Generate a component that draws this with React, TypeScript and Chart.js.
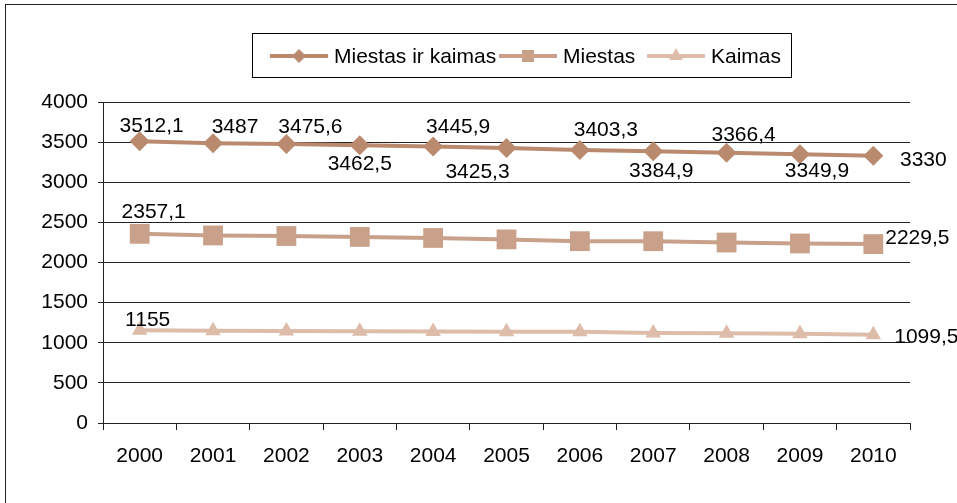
import React, { useEffect, useRef } from "react";
import { Chart, registerables } from "chart.js";

Chart.register(...registerables);

const years = ["2000", "2001", "2002", "2003", "2004", "2005", "2006", "2007", "2008", "2009", "2010"];
const total = [3512.1, 3487, 3475.6, 3462.5, 3445.9, 3425.3, 3403.3, 3384.9, 3366.4, 3349.9, 3330];
const city = [2357.1, 2337, 2330, 2319, 2306, 2288, 2266, 2265, 2249, 2237, 2229.5];
const rural = [1155, 1150, 1146, 1143, 1140, 1137, 1137, 1120, 1117, 1113, 1099.5];
const seriesNames = ["Miestas ir kaimas", "Miestas", "Kaimas"];
const yTickMin = 0;
const yTickMax = 4000;
const yTickStep = 500;

// label placement: [pointIndex, dx, dy] relative to the point (style only)
const totalLabelPos = [
  [0, 12, -15], [1, 22, -16], [2, 24, -17], [3, 0, 19], [4, 25, -19], [5, -29, 24],
  [6, 26, -20], [7, 8, 20], [8, 17, -18], [9, 17, 17], [10, 50, 4],
];
const cityLabelPos = [[0, 14, -22], [10, 44, -6]];
const ruralLabelPos = [[0, 8, -10], [10, 53, 2]];

const COLORS = ["#B98A6E", "#C9A18B", "#DDBCA9"];
const FONT = "Liberation Sans, Arial, sans-serif";
const FS = 21;

const fmt = (v: number) => String(v).replace(".", ",");

function drawMarker(ctx: CanvasRenderingContext2D, style: string, x: number, y: number, r: number) {
  ctx.beginPath();
  if (style === "rectRot") {
    ctx.moveTo(x, y - r);
    ctx.lineTo(x + r, y);
    ctx.lineTo(x, y + r);
    ctx.lineTo(x - r, y);
  } else if (style === "rect") {
    ctx.rect(x - r, y - r, 2 * r, 2 * r);
  } else {
    ctx.moveTo(x, y - r);
    ctx.lineTo(x + r * 0.866, y + r * 0.5);
    ctx.lineTo(x - r * 0.866, y + r * 0.5);
  }
  ctx.closePath();
  ctx.fill();
}

const extrasPlugin = {
  id: "extras",
  afterDatasetsDraw(chart: any) {
    const ctx = chart.ctx as CanvasRenderingContext2D;
    ctx.save();
    // data labels
    ctx.font = `${FS}px ${FONT}`;
    ctx.fillStyle = "#000";
    ctx.textAlign = "center";
    ctx.textBaseline = "middle";
    const posSets = [totalLabelPos, cityLabelPos, ruralLabelPos];
    posSets.forEach((set, di) => {
      const meta = chart.getDatasetMeta(di);
      const data = chart.data.datasets[di].data as number[];
      set.forEach(([i, dx, dy]) => {
        const el = meta.data[i];
        ctx.fillText(fmt(data[i]), el.x + dx, el.y + dy);
      });
    });

    // legend
    const box = { l: 252.5, t: 33.5, r: 791.5, b: 77.5 };
    ctx.strokeStyle = "#000";
    ctx.lineWidth = 1;
    ctx.strokeRect(box.l, box.t, box.r - box.l, box.b - box.t);
    const cy = 56;
    const starts = [270, 499, 647];
    const styles = ["rectRot", "rect", "triangle"];
    const mr = [7, 6, 8];
    ctx.textAlign = "left";
    starts.forEach((sx, i) => {
      ctx.strokeStyle = COLORS[i];
      ctx.lineWidth = 4;
      ctx.beginPath();
      ctx.moveTo(sx, cy);
      ctx.lineTo(sx + 58, cy);
      ctx.stroke();
      ctx.fillStyle = COLORS[i];
      drawMarker(ctx, styles[i], sx + 29, cy, mr[i]);
      ctx.fillStyle = "#000";
      ctx.fillText(seriesNames[i], sx + 64, cy + 1);
    });

    // outer frame
    ctx.strokeStyle = "#222";
    ctx.lineWidth = 1;
    ctx.strokeRect(5.5, 4.5, 2000, 2000);
    ctx.restore();
  },
};

export default function App() {
  const ref = useRef<HTMLCanvasElement | null>(null);
  useEffect(() => {
    document.body.style.margin = "0";
    const canvas = ref.current!;
    const mk = (i: number, data: number[], style: string, r: number) => ({
      label: seriesNames[i],
      data,
      borderColor: COLORS[i],
      backgroundColor: COLORS[i],
      borderWidth: 4,
      pointStyle: style,
      pointRadius: r,
      pointBorderWidth: 0,
      pointBackgroundColor: COLORS[i],
      tension: 0,
    });
    const chart = new Chart(canvas, {
      type: "line",
      data: {
        labels: years,
        datasets: [
          mk(0, total, "rectRot", 10),
          mk(1, city, "rect", 14),
          mk(2, rural, "triangle", 9),
        ],
      },
      options: {
        responsive: false,
        animation: false,
        devicePixelRatio: 1,
        layout: { padding: { left: 0, top: 102, right: 47, bottom: 0 } },
        plugins: { legend: { display: false }, tooltip: { enabled: false } },
        scales: {
          x: {
            offset: true,
            grid: { offset: true, drawOnChartArea: false, drawTicks: true, tickLength: 7, color: "#222", lineWidth: 1 },
            border: { display: true, color: "#222", width: 1 },
            ticks: { color: "#000", font: { family: FONT, size: FS }, padding: 14, maxRotation: 0, autoSkip: false },
            afterFit: (s: any) => { s.height = 80; },
          },
          y: {
            min: yTickMin,
            max: yTickMax,
            ticks: {
              stepSize: yTickStep,
              color: "#000",
              font: { family: FONT, size: FS },
              padding: 10,
              callback: (v: any) => String(v),
            },
            grid: { color: "#222", lineWidth: 1, tickLength: 5, drawTicks: true },
            border: { display: true, color: "#222", width: 1 },
            afterFit: (s: any) => { s.width = 103; },
          },
        },
      },
      plugins: [extrasPlugin],
    } as any);
    return () => chart.destroy();
  }, []);
  return <canvas ref={ref} width={957} height={503} style={{ display: "block" }} />;
}
